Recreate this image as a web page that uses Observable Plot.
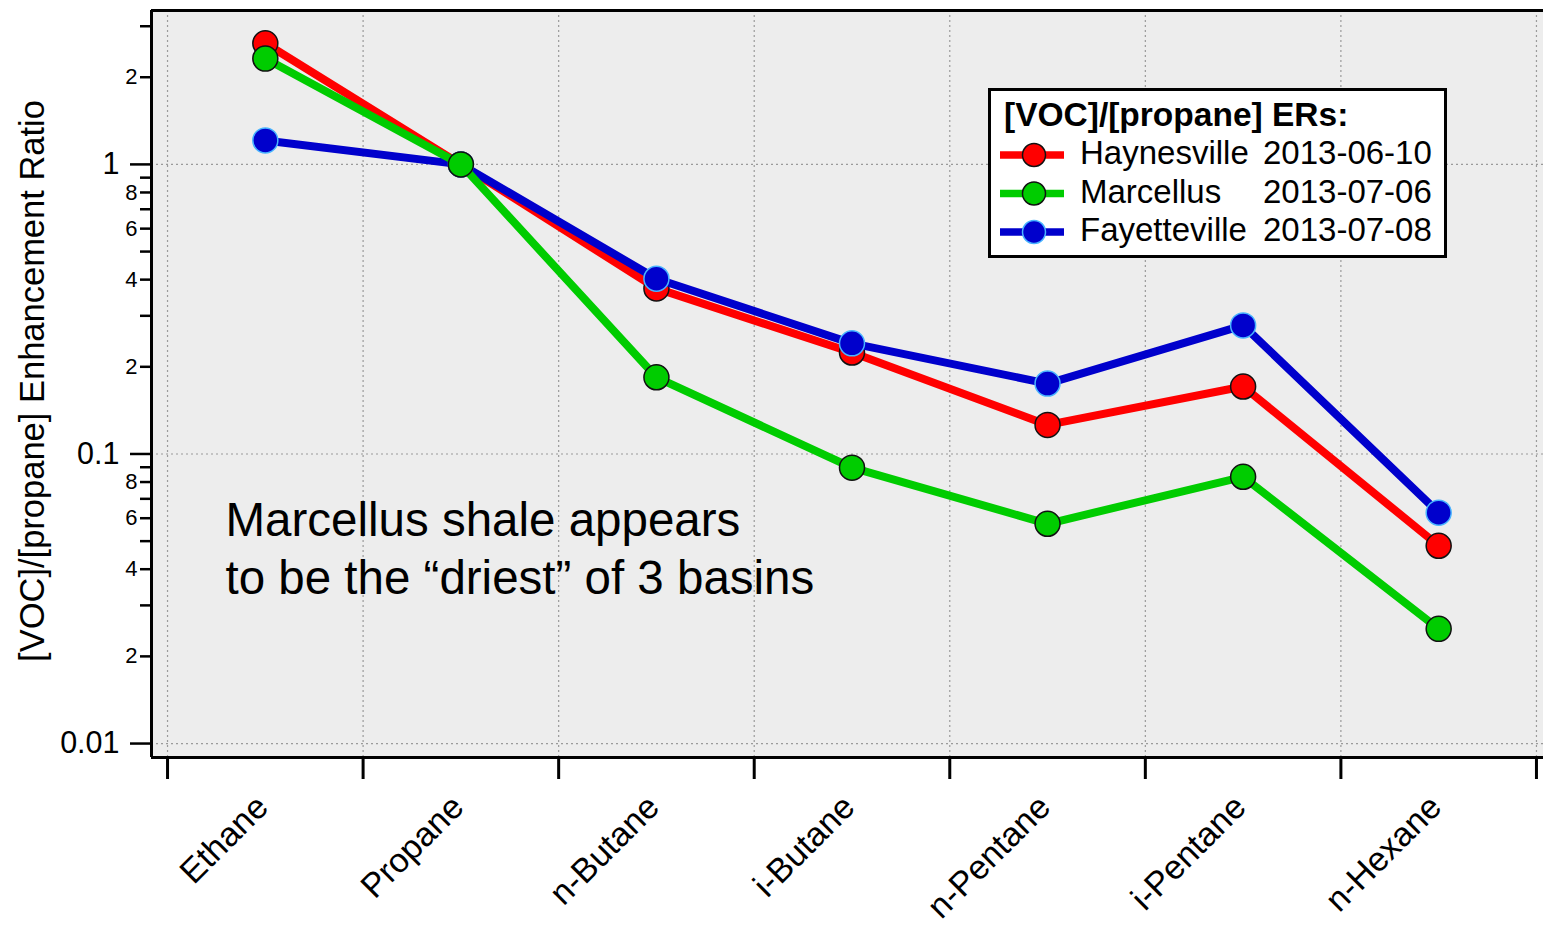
<!DOCTYPE html>
<html>
<head>
<meta charset="utf-8">
<script src="https://cdn.jsdelivr.net/npm/d3@7"></script>
<script src="https://cdn.jsdelivr.net/npm/@observablehq/plot@0.6"></script>
<style>
  body { margin: 0; background: #fff; font-family: "Liberation Sans", Arial, sans-serif; }
  #chart { width: 1543px; height: 930px; }
</style>
</head>
<body>
<div id="chart"></div>
<script>
// VOC / propane enhancement ratios for three shale basins
const categories = ["Ethane", "Propane", "n-Butane", "i-Butane", "n-Pentane", "i-Pentane", "n-Hexane"];
const haynesville = [2.62, 1, 0.373, 0.224, 0.126, 0.171, 0.0482];
const marcellus = [2.32, 1, 0.184, 0.0897, 0.0574, 0.0834, 0.0249];
const fayetteville = [1.21, 1, 0.403, 0.241, 0.175, 0.278, 0.0627];

const seriesNames = ["Haynesville", "Marcellus", "Fayetteville"];
const seriesDates = ["2013-06-10", "2013-07-06", "2013-07-08"];
const seriesValues = [haynesville, marcellus, fayetteville];

const majorTicks = [0.01, 0.1, 1];
const majorLabels = ["0.01", "0.1", "1"];
const yTitle = "[VOC]/[propane] Enhancement Ratio";
const legendTitle = "[VOC]/[propane] ERs:";
const note = "Marcellus shale appears\nto be the \u201cdriest\u201d of 3 basins";

// styling
const colors = {Haynesville: "#ff0000", Marcellus: "#00cc00", Fayetteville: "#0000cc"};
const outlines = {Haynesville: "#111", Marcellus: "#111", Fayetteville: "#49b4ff"};
const drawOrder = ["Haynesville", "Fayetteville", "Marcellus"];
const font = "'Liberation Sans', Arial, sans-serif";

// long-format table: category i sits at i + 0.5, category boundaries are integers
const rows = seriesNames.flatMap((s, k) =>
  categories.map((c, i) => ({series: s, category: c, pos: i + 0.5, value: seriesValues[k][i]})));

const boundaries = d3.range(categories.length + 1);
const xDomain = [-0.082, 7.036];
const yDomain = [0.00895, 3.40];

// minor log ticks 2..9 in each decade
const minorAll = [];
for (let e = -2; e <= 0; e++) for (let m = 2; m <= 9; m++) {
  const v = +(m * 10 ** e).toPrecision(3);
  if (v <= yDomain[1]) minorAll.push(v);
}
const leading = v => Math.round(v / 10 ** Math.floor(Math.log10(v) + 1e-9));
const minorLabeled = minorAll.filter(v => leading(v) % 2 === 0);
const minorPlain = minorAll.filter(v => leading(v) % 2 === 1);

const seriesMarks = drawOrder.flatMap(s => {
  const data = rows.filter(r => r.series === s);
  return [
    Plot.line(data, {x: "pos", y: "value", stroke: colors[s], strokeWidth: 8, strokeLinejoin: "round"}),
    Plot.dot(data, {x: "pos", y: "value", r: 12.5, fill: colors[s], stroke: outlines[s], strokeWidth: 1.5})
  ];
});

const chart = Plot.plot({
  width: 1543,
  height: 930,
  marginLeft: 151,
  marginRight: 0,
  marginTop: 10,
  marginBottom: 173,
  style: {background: "transparent", fontFamily: font, color: "#000", overflow: "visible"},
  x: {type: "linear", domain: xDomain, axis: null, label: null},
  y: {type: "log", domain: yDomain, axis: null, label: null},
  marks: [
    Plot.frame({fill: "#ededed", stroke: "none"}),
    Plot.gridX(boundaries, {stroke: "#9a9a9a", strokeOpacity: 1, strokeWidth: 1.2, strokeDasharray: "2,3"}),
    Plot.gridY(majorTicks, {stroke: "#9a9a9a", strokeOpacity: 1, strokeWidth: 1.2, strokeDasharray: "2,3"}),
    Plot.text([note], {frameAnchor: "top-left", dx: 74, dy: 484, fontSize: 47.5, lineHeight: 1.22, lineAnchor: "top", textAnchor: "start", fill: "#000"}),
    ...seriesMarks,
    // axis frame: left, top and bottom edges
    Plot.ruleX([xDomain[0]], {stroke: "#000", strokeWidth: 3}),
    Plot.ruleY(yDomain, {stroke: "#000", strokeWidth: 3}),
    // y axis ticks and labels
    Plot.axisY(majorTicks, {anchor: "left", tickSize: 21, tickPadding: 11, strokeWidth: 2.5, fontSize: 30.5, label: null,
      tickFormat: d => majorLabels[majorTicks.indexOf(d)]}),
    Plot.axisY(minorLabeled, {anchor: "left", tickSize: 11, tickPadding: 3, strokeWidth: 2.5, fontSize: 22, label: null,
      tickFormat: d => String(leading(d))}),
    Plot.axisY(minorPlain, {anchor: "left", tickSize: 11, strokeWidth: 2.5, fill: "none", label: null}),
    // x axis ticks at category boundaries
    Plot.axisX(boundaries, {anchor: "bottom", tickSize: 22, strokeWidth: 3, fill: "none", label: null}),
    Plot.text(categories, {x: (d, i) => i + 0.5, frameAnchor: "bottom", dx: -3, dy: 44, rotate: -45,
      textAnchor: "end", lineAnchor: "middle", fontSize: 34, fill: "#000"}),
    Plot.text([yTitle], {frameAnchor: "left", dx: -119, dy: -3, rotate: -90, fontSize: 34.5, textAnchor: "middle", lineAnchor: "middle", fill: "#000"})
  ]
});

document.getElementById("chart").append(chart);

// legend box drawn into the chart's svg
const svg = d3.select(chart);
const lg = svg.append("g").attr("font-family", font).attr("text-anchor", "start");
lg.append("rect").attr("x", 989.5).attr("y", 89.5).attr("width", 456).attr("height", 167)
  .attr("fill", "#fff").attr("stroke", "#000").attr("stroke-width", 3);
lg.append("text").attr("x", 1004).attr("y", 126).attr("font-size", 33.5).attr("font-weight", "bold")
  .attr("fill", "#000").text(legendTitle);
seriesNames.forEach((s, k) => {
  const cy = 155 + k * 38.5;
  lg.append("line").attr("x1", 1000).attr("x2", 1064).attr("y1", cy).attr("y2", cy)
    .attr("stroke", colors[s]).attr("stroke-width", 7.5);
  lg.append("circle").attr("cx", 1034).attr("cy", cy).attr("r", 11.5)
    .attr("fill", colors[s]).attr("stroke", outlines[s]).attr("stroke-width", 1.5);
  lg.append("text").attr("x", 1080).attr("y", cy + 9).attr("font-size", 33).attr("fill", "#000").text(s);
  lg.append("text").attr("x", 1263).attr("y", cy + 9).attr("font-size", 33).attr("fill", "#000").text(seriesDates[k]);
});
</script>
</body>
</html>
